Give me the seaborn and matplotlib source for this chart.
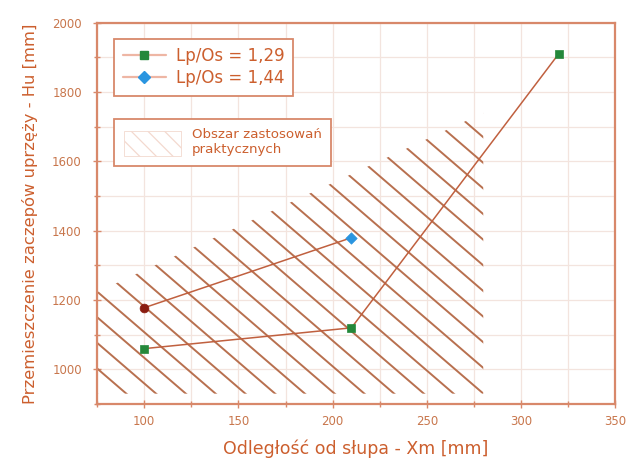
import matplotlib
matplotlib.use("Agg")
import matplotlib.pyplot as plt
import seaborn as sns
import numpy as np
import pandas as pd
from matplotlib.lines import Line2D
from matplotlib.patches import Polygon, Patch
from matplotlib.ticker import MultipleLocator

# ---- data ----
x_129 = [100, 210, 320]
y_129 = [1060, 1120, 1910]
x_144 = [100, 210]
y_144 = [1178, 1380]
series_labels = ["Lp/Os = 1,29", "Lp/Os = 1,44"]
area_x = [75, 280, 280, 75]
area_y = [930, 930, 1740, 1223]
area_label = "Obszar zastosowań\npraktycznych"
xticks = [100, 150, 200, 250, 300, 350]
yticks = [1000, 1200, 1400, 1600, 1800, 2000]
xlabel = "Odległość od słupa - Xm [mm]"
ylabel = "Przemieszczenie zaczepów uprzęży - Hu [mm]"

# ---- style ----
text_c = "#cc5f2e"
tick_c = "#c8764c"
spine_c = "#d8886a"
line_c = "#c0603f"
hatch_c = "#b8704f"
grid_c = "#f3e4de"
green = "#24883a"
blue = "#2a95e0"
darkred = "#8a1c10"

sns.set_theme(style="white")
plt.rcParams['font.family'] = ['DejaVu Sans']
plt.rcParams['hatch.color'] = "#edc9bb"
plt.rcParams['hatch.linewidth'] = 0.9

fig = plt.figure(figsize=(6.27, 4.65), dpi=100)
ax = fig.add_axes([0.155, 0.131, 0.826, 0.820])
ax.set_xlim(75, 350)
ax.set_ylim(900, 2000)

# grid
ax.xaxis.set_major_locator(MultipleLocator(50))
ax.xaxis.set_minor_locator(MultipleLocator(25))
ax.yaxis.set_major_locator(MultipleLocator(200))
ax.yaxis.set_minor_locator(MultipleLocator(100))
ax.set_xticks(xticks)
ax.set_yticks(yticks)
ax.grid(True, which="both", color=grid_c, lw=0.9, zorder=0)
ax.set_axisbelow(True)

# hatched area (lines clipped to polygon)
poly = Polygon(np.column_stack([area_x, area_y]), closed=True, fill=False,
               edgecolor="none")
ax.add_patch(poly)
slope = -4.68
step = 15.8
for x0 in np.arange(90.5 - 30 * step, 520, step):
    xs = np.array([60.0, 360.0])
    ys = area_y[0] + slope * (xs - x0)
    ln, = ax.plot(xs, ys, color=hatch_c, lw=1.4, zorder=2)
    ln.set_clip_path(poly)

# data lines
df129 = pd.DataFrame({"x": x_129, "y": y_129})
df144 = pd.DataFrame({"x": x_144, "y": y_144})
sns.lineplot(data=df129, x="x", y="y", color=line_c, lw=1.1, ax=ax,
             sort=False, zorder=3, legend=False)
sns.lineplot(data=df144, x="x", y="y", color=line_c, lw=1.1, ax=ax,
             sort=False, zorder=3, legend=False)

# markers
sns.scatterplot(data=df129, x="x", y="y", marker="s", color=green, s=38,
                edgecolor=green, ax=ax, zorder=4, legend=False)
sns.scatterplot(data=df144.iloc[[1]], x="x", y="y", marker="D", color=blue,
                s=34, edgecolor=blue, ax=ax, zorder=4, legend=False)
sns.scatterplot(data=df144.iloc[[0]], x="x", y="y", marker="o", color=darkred,
                s=40, edgecolor=darkred, ax=ax, zorder=4, legend=False)

# spines and ticks
for s in ax.spines.values():
    s.set_visible(True)
    s.set_color(spine_c)
    s.set_linewidth(1.6)
ax.tick_params(axis="both", which="major", direction="inout", length=6,
               width=1.0, color=spine_c, labelcolor=tick_c, labelsize=8.5,
               pad=5, bottom=True, left=True)
ax.tick_params(axis="both", which="minor", direction="inout", length=4,
               width=1.0, color=spine_c, bottom=True, left=True)
ax.tick_params(axis="y", which="major", pad=8)

ax.set_xlabel(xlabel, color=text_c, fontsize=12.5, labelpad=8)
ax.set_ylabel(ylabel, color=text_c, fontsize=11.8, labelpad=10)

# legends
h1 = Line2D([], [], color="#eeb6a4", lw=1.6, marker="s", markersize=6,
            markerfacecolor=green, markeredgecolor=green)
h2 = Line2D([], [], color="#eeb6a4", lw=1.6, marker="D", markersize=6,
            markerfacecolor=blue, markeredgecolor=blue)
leg1 = ax.legend([h1, h2], series_labels, loc="upper left",
                 bbox_to_anchor=(0.033, 0.958), fontsize=12,
                 labelcolor=text_c, frameon=True, fancybox=False,
                 edgecolor=spine_c, framealpha=1, handlelength=2.6,
                 handletextpad=0.6, borderpad=0.5, labelspacing=0.25,
                 borderaxespad=0)
leg1.get_frame().set_linewidth(1.3)
ax.add_artist(leg1)

hp = Patch(facecolor="white", edgecolor="#f3d9cf", hatch="\\\\", lw=0.6)
leg2 = ax.legend([hp], [area_label], loc="upper left",
                 bbox_to_anchor=(0.033, 0.748), fontsize=9.6,
                 labelcolor=text_c, frameon=True, fancybox=False,
                 edgecolor=spine_c, framealpha=1, handlelength=4.3,
                 handleheight=2.5, handletextpad=0.8, borderpad=0.7,
                 borderaxespad=0)
leg2.get_frame().set_linewidth(1.3)

fig.savefig("out.png", dpi=100, facecolor="white")
